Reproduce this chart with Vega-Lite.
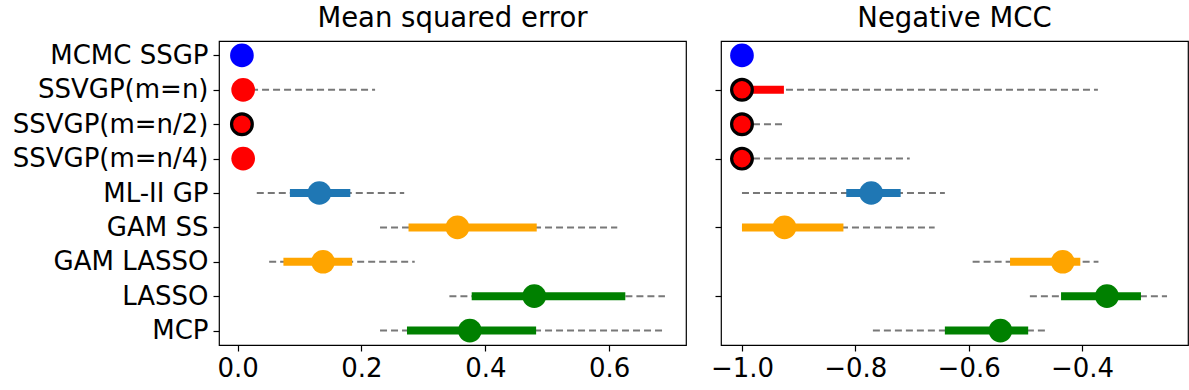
{
  "$schema": "https://vega.github.io/schema/vega-lite/v6.json",
  "background": "white",
  "padding": {"left": 5, "top": 3, "right": 5, "bottom": 0},
  "spacing": 22,
  "config": {
    "font": "DejaVu Sans",
    "view": {"stroke": "black", "strokeWidth": 1.2},
    "axis": {"grid": false, "domain": false, "labelFontSize": 26, "labelLimit": 0, "labelColor": "black", "tickColor": "black", "tickSize": 6, "tickWidth": 1.2, "labelFont": "DejaVu Sans", "title": null},
    "title": {"fontSize": 27.5, "fontWeight": "normal", "color": "black", "font": "DejaVu Sans", "anchor": "middle", "baseline": "alphabetic", "offset": 9}
  },
  "resolve": {"scale": {"x": "independent", "y": "independent"}},
  "datasets": {
    "rows": [
      {"panel": "mse", "method": "MCMC SSGP", "lo": 0.007, "q1": 0.007, "med": 0.007, "q3": 0.007, "hi": 0.007, "flag": false},
      {"panel": "mse", "method": "SSVGP(m=n)", "lo": 0.004, "q1": 0.006, "med": 0.009, "q3": 0.013, "hi": 0.222, "flag": false},
      {"panel": "mse", "method": "SSVGP(m=n/2)", "lo": 0.004, "q1": 0.005, "med": 0.007, "q3": 0.009, "hi": 0.012, "flag": true},
      {"panel": "mse", "method": "SSVGP(m=n/4)", "lo": 0.005, "q1": 0.007, "med": 0.009, "q3": 0.012, "hi": 0.016, "flag": false},
      {"panel": "mse", "method": "ML-II GP", "lo": 0.031, "q1": 0.0845, "med": 0.132, "q3": 0.182, "hi": 0.269, "flag": false},
      {"panel": "mse", "method": "GAM SS", "lo": 0.230, "q1": 0.276, "med": 0.355, "q3": 0.483, "hi": 0.613, "flag": false},
      {"panel": "mse", "method": "GAM LASSO", "lo": 0.051, "q1": 0.074, "med": 0.138, "q3": 0.185, "hi": 0.286, "flag": false},
      {"panel": "mse", "method": "LASSO", "lo": 0.342, "q1": 0.378, "med": 0.479, "q3": 0.626, "hi": 0.690, "flag": false},
      {"panel": "mse", "method": "MCP", "lo": 0.230, "q1": 0.2735, "med": 0.375, "q3": 0.482, "hi": 0.689, "flag": false},
      {"panel": "mcc", "method": "MCMC SSGP", "lo": -1.0, "q1": -1.0, "med": -1.0, "q3": -1.0, "hi": -1.0, "flag": false},
      {"panel": "mcc", "method": "SSVGP(m=n)", "lo": -1.0, "q1": -1.0, "med": -1.0, "q3": -0.926, "hi": -0.372, "flag": true},
      {"panel": "mcc", "method": "SSVGP(m=n/2)", "lo": -1.0, "q1": -1.0, "med": -1.0, "q3": -1.0, "hi": -0.926, "flag": true},
      {"panel": "mcc", "method": "SSVGP(m=n/4)", "lo": -1.0, "q1": -1.0, "med": -1.0, "q3": -1.0, "hi": -0.704, "flag": true},
      {"panel": "mcc", "method": "ML-II GP", "lo": -1.0, "q1": -0.816, "med": -0.772, "q3": -0.72, "hi": -0.642, "flag": false},
      {"panel": "mcc", "method": "GAM SS", "lo": -1.0, "q1": -1.0, "med": -0.925, "q3": -0.821, "hi": -0.660, "flag": false},
      {"panel": "mcc", "method": "GAM LASSO", "lo": -0.593, "q1": -0.527, "med": -0.434, "q3": -0.403, "hi": -0.371, "flag": false},
      {"panel": "mcc", "method": "LASSO", "lo": -0.492, "q1": -0.437, "med": -0.356, "q3": -0.296, "hi": -0.250, "flag": false},
      {"panel": "mcc", "method": "MCP", "lo": -0.769, "q1": -0.642, "med": -0.544, "q3": -0.495, "hi": -0.462, "flag": false}
    ]
  },
  "data": {"name": "rows"},
  "hconcat": [
    {
      "title": {"text": "Mean squared error"},
      "width": 467,
      "height": 304,
      "transform": [{"filter": "datum.panel === 'mse'"}],
      "encoding": {
        "y": {"field": "method", "type": "nominal", "scale": {"type": "point", "padding": 0.42, "domain": ["MCMC SSGP", "SSVGP(m=n)", "SSVGP(m=n/2)", "SSVGP(m=n/4)", "ML-II GP", "GAM SS", "GAM LASSO", "LASSO", "MCP"]}, "axis": {"minExtent": 213, "maxExtent": 213, "labelPadding": 5}}
      },
      "layer": [
        {
          "mark": {"type": "rule", "color": "#787878", "strokeWidth": 2, "strokeDash": [7, 4]},
          "encoding": {
            "x": {"field": "lo", "type": "quantitative", "scale": {"domain": [-0.03, 0.724], "nice": false, "zero": false}, "axis": {"values": [0, 0.2, 0.4, 0.6], "format": ".1f", "labelPadding": 4}},
            "x2": {"field": "hi"}
          }
        },
        {
          "mark": {"type": "rule", "strokeWidth": 8, "strokeCap": "butt"},
          "encoding": {
            "x": {"field": "q1", "type": "quantitative"},
            "x2": {"field": "q3"},
            "color": {"field": "method", "type": "nominal", "legend": null, "scale": {"domain": ["MCMC SSGP", "SSVGP(m=n)", "SSVGP(m=n/2)", "SSVGP(m=n/4)", "ML-II GP", "GAM SS", "GAM LASSO", "LASSO", "MCP"], "range": ["#0000ff", "#ff0000", "#ff0000", "#ff0000", "#1f77b4", "#ffa500", "#ffa500", "#008000", "#008000"]}}
          }
        },
        {
          "mark": {"type": "circle", "opacity": 1, "stroke": "black"},
          "encoding": {
            "x": {"field": "med", "type": "quantitative"},
            "color": {"field": "method", "type": "nominal", "legend": null},
            "size": {"condition": {"test": "datum.flag", "value": 430}, "value": 560},
            "strokeWidth": {"condition": {"test": "datum.flag", "value": 3.2}, "value": 0}
          }
        }
      ]
    },
    {
      "title": {"text": "Negative MCC"},
      "width": 467,
      "height": 304,
      "transform": [{"filter": "datum.panel === 'mcc'"}],
      "encoding": {
        "y": {"field": "method", "type": "nominal", "scale": {"type": "point", "padding": 0.42, "domain": ["MCMC SSGP", "SSVGP(m=n)", "SSVGP(m=n/2)", "SSVGP(m=n/4)", "ML-II GP", "GAM SS", "GAM LASSO", "LASSO", "MCP"]}, "axis": {"labels": false, "values": ["SSVGP(m=n)", "SSVGP(m=n/4)", "GAM SS", "LASSO"], "minExtent": 6, "maxExtent": 6}}
      },
      "layer": [
        {
          "mark": {"type": "rule", "color": "#787878", "strokeWidth": 2, "strokeDash": [7, 4]},
          "encoding": {
            "x": {"field": "lo", "type": "quantitative", "scale": {"domain": [-1.037, -0.213], "nice": false, "zero": false}, "axis": {"values": [-1.0, -0.8, -0.6, -0.4], "format": ".1f", "labelPadding": 4}},
            "x2": {"field": "hi"}
          }
        },
        {
          "mark": {"type": "rule", "strokeWidth": 8, "strokeCap": "butt"},
          "encoding": {
            "x": {"field": "q1", "type": "quantitative"},
            "x2": {"field": "q3"},
            "color": {"field": "method", "type": "nominal", "legend": null}
          }
        },
        {
          "mark": {"type": "circle", "opacity": 1, "stroke": "black"},
          "encoding": {
            "x": {"field": "med", "type": "quantitative"},
            "color": {"field": "method", "type": "nominal", "legend": null},
            "size": {"condition": {"test": "datum.flag", "value": 430}, "value": 560},
            "strokeWidth": {"condition": {"test": "datum.flag", "value": 3.2}, "value": 0}
          }
        }
      ]
    }
  ]
}
